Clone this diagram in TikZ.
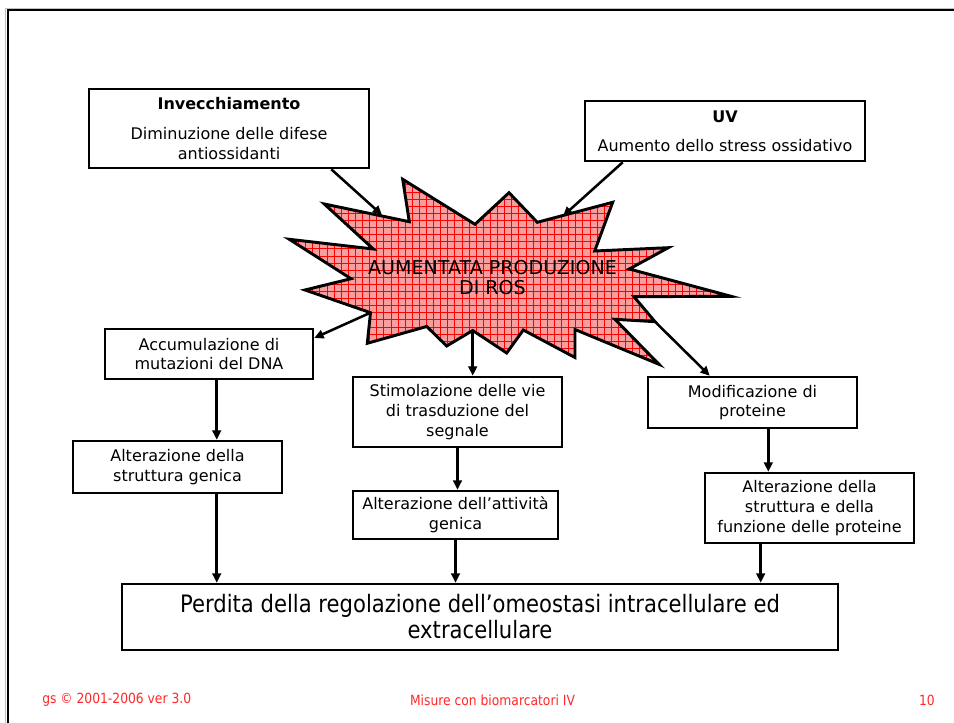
\documentclass[tikz,border=0pt]{standalone}
\usepackage{fontspec}
\setmainfont{DejaVu Sans}
\newfontfamily\narrowfont[FakeStretch=0.88]{DejaVu Sans}
\usetikzlibrary{arrows.meta}
\definecolor{burstfill}{RGB}{248,158,158}
\definecolor{burstgrid}{RGB}{255,0,0}
\definecolor{footred}{RGB}{255,40,40}

% outline of the ROS burst
\def\burstpath{(402.7,179.3) -- (475,224.3) -- (509,192.7) -- (537.3,222.3) -- (612.7,202.3)
 -- (594.7,251) -- (668.3,247.7) -- (629.3,269) -- (731,296.3) -- (634,296.7) -- (655,321.7)
 -- (615,319.3) -- (659,364.3) -- (575,329.5) -- (575,357.5) -- (523.3,330) -- (506.7,353)
 -- (472.7,330.5) -- (446.7,346) -- (426.7,326.5) -- (367.3,343.3) -- (370.5,312.7)
 -- (305,290) -- (351,278.7) -- (289.3,239.3) -- (373.3,249) -- (324.3,204) -- (409.3,221.7) -- cycle}

\begin{document}
\begin{tikzpicture}[x=0.75pt,y=-0.75pt,
  box/.style={draw, line width=1.9pt, inner sep=0pt, align=center,
              font=\fontsize{12pt}{14.8pt}\selectfont},
  arr/.style={line width=1.9pt, -{Triangle[length=7pt,width=6.5pt]}},
  foot/.style={text=footred, inner sep=0pt,
               font=\narrowfont\fontsize{10.5pt}{12pt}\selectfont}]
\useasboundingbox (0,0) rectangle (954,723);
\fill[white] (0,0) rectangle (954,723);

% slide frame
\draw[gray!50, line width=0.75pt] (5.5,723) -- (5.5,8.5) -- (954,8.5);
\draw[line width=1.5pt] (7.5,723) -- (7.5,10.5) -- (954,10.5);

% burst: fill, grid texture, outline
\fill[burstfill] \burstpath;
\begin{scope}
  \clip \burstpath;
  \draw[burstgrid, line width=0.5pt, step=5.33pt] (280,160) grid (740,370);
\end{scope}
\draw[line width=2.2pt, line join=miter] \burstpath;
\node[align=center, inner sep=0pt, font=\fontsize{14.3pt}{15.6pt}\selectfont] (ros) at (492.5,277.5)
  {AUMENTATA PRODUZIONE\\DI ROS};

% points on the burst where connectors meet it
\coordinate (hitA) at (382,215);
\coordinate (hitB) at (563,216);
\coordinate (vL) at (370.5,312.7);
\coordinate (vM) at (472.7,330.5);
\coordinate (vR) at (655,321.7);

% boxes
\node[box, minimum width=210pt, minimum height=59.25pt] (inv) at (229,128.5)
  {\textbf{Invecchiamento}\\[7.5pt]Diminuzione delle difese\\antiossidanti};
\node[box, minimum width=210pt, minimum height=45pt] (uv) at (725,131)
  {\textbf{UV}\\[6.7pt]Aumento dello stress ossidativo};
\node[box, minimum width=156pt, minimum height=37.5pt] (acc) at (209,354)
  {Accumulazione di\\mutazioni del DNA};
\node[box, minimum width=156.75pt, minimum height=39pt] (alt1) at (177.5,467)
  {Alterazione della\\struttura genica};
\node[box, minimum width=156.75pt, minimum height=52.5pt] (stim) at (457.5,412)
  {Stimolazione delle vie\\di trasduzione del\\segnale};
\node[box, minimum width=153.75pt, minimum height=36pt] (alt2) at (455.5,515)
  {Alterazione dell’attività\\genica};
\node[box, minimum width=156.75pt, minimum height=38.25pt] (mod) at (752.5,402.5)
  {Modificazione di\\proteine};
\node[box, minimum width=156.75pt, minimum height=52.5pt] (alt3) at (809.5,508)
  {Alterazione della\\struttura e della\\funzione delle proteine};
\node[box, minimum width=537pt, minimum height=49.5pt,
      font=\narrowfont\fontsize{18pt}{19.5pt}\selectfont] (big) at (480,617)
  {\raisebox{0pt}[\height][\depth]{}Perdita della regolazione dell’omeostasi intracellulare ed\\extracellulare};

% connectors
\draw[arr] ([xshift=-29.25pt]inv.south east) -- (hitA);
\draw[arr] ([xshift=29.25pt]uv.south west) -- (hitB);
\draw[arr] (vL) -- ([yshift=12pt]acc.east);
\draw[arr] (vM) -- (vM |- stim.north);
\draw[arr] (vR) -- ([xshift=47.25pt]mod.north west);

\coordinate (c1) at ([xshift=5.8pt]acc.south);
\draw[arr] (c1) -- (c1 |- alt1.north);
\draw[arr] (c1 |- alt1.south) -- (c1 |- big.north);
\draw[arr] (stim.south) -- (stim.south |- alt2.north);
\draw[arr] (alt2.south) -- (alt2.south |- big.north);
\coordinate (c3) at ([xshift=11.85pt]mod.south);
\draw[arr] (c3) -- (c3 |- alt3.north);
\coordinate (c4) at ([xshift=-36.6pt]alt3.south);
\draw[arr] (c4) -- (c4 |- big.north);

% footer
\node[foot, anchor=west] (f1) at (42,700) {gs © 2001-2006 ver 3.0};
\node[foot] (f2) at (492.5,700) {Misure con biomarcatori IV};
\node[foot, anchor=east] (f3) at (935,700) {10};
\end{tikzpicture}
\end{document}
